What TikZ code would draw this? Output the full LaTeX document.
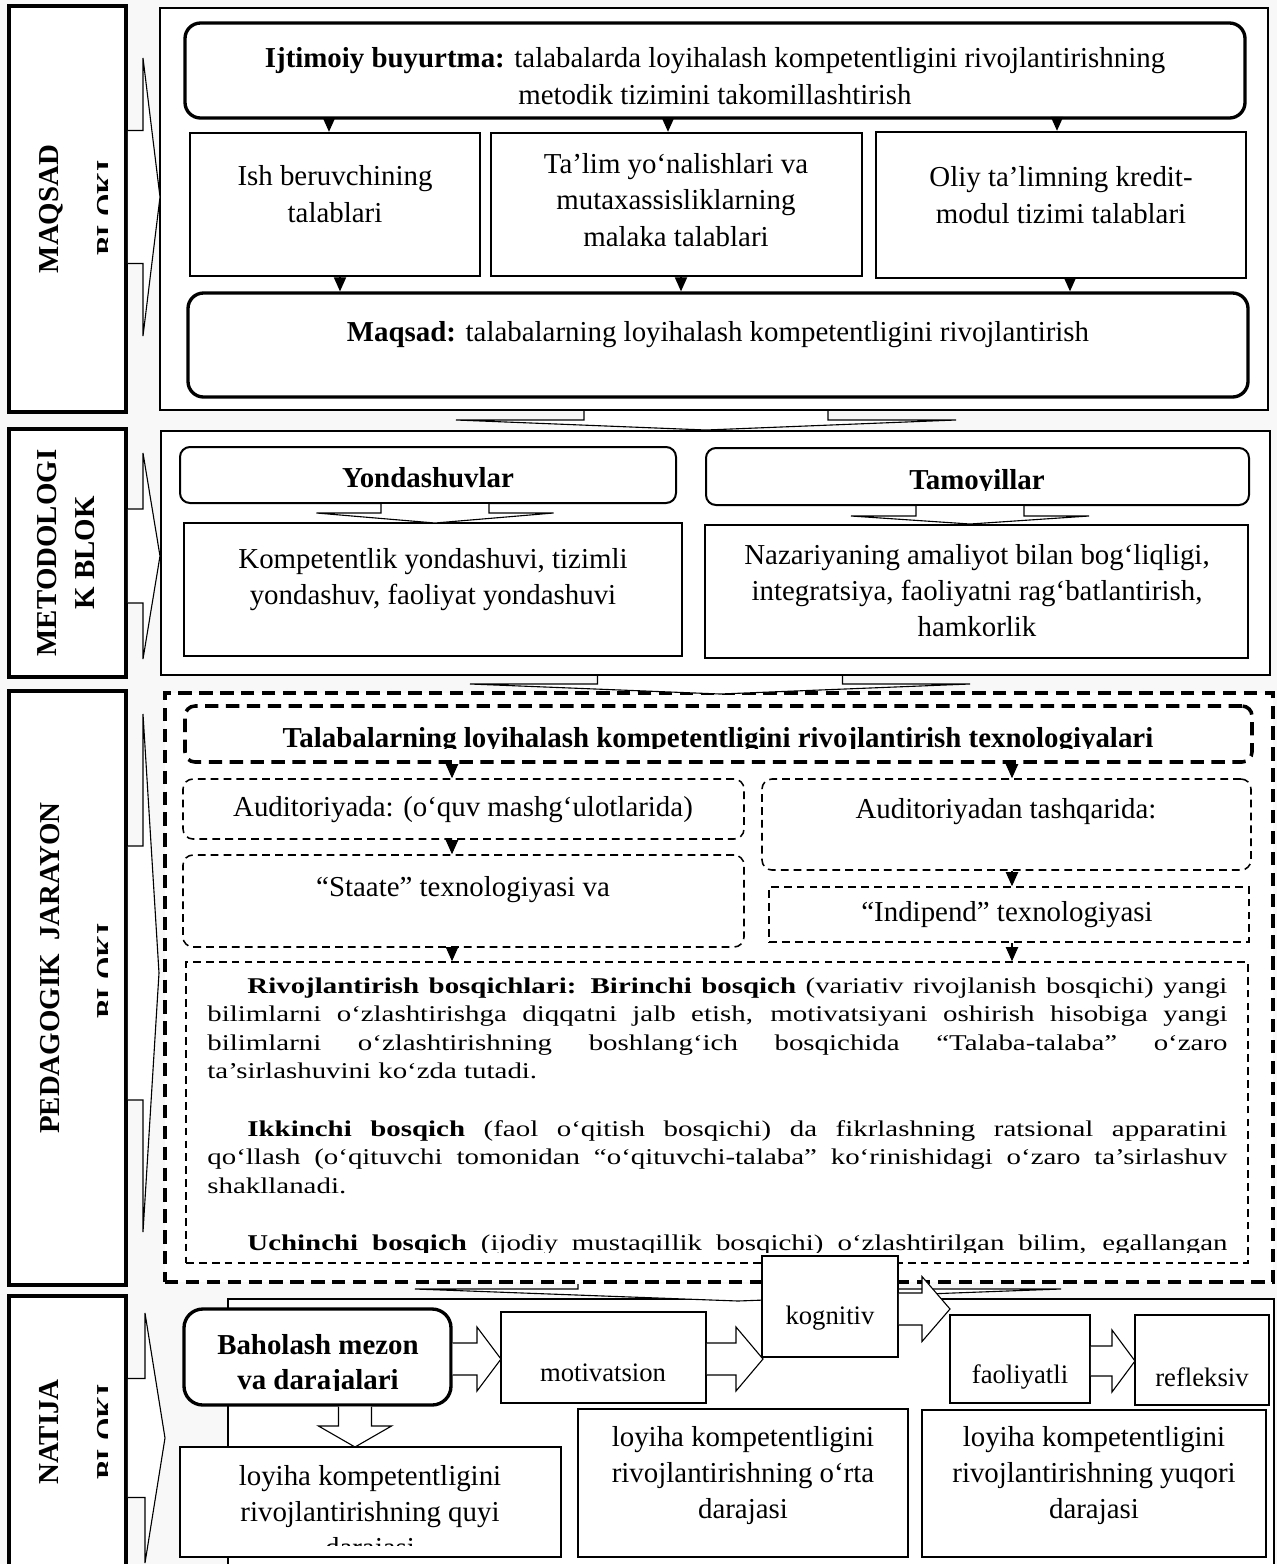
\documentclass[tikz,border=0pt]{standalone}
\usepackage{fontspec}
\setmainfont{Liberation Serif}
\usepackage{graphicx}
\usetikzlibrary{fit,calc,arrows.meta}

\definecolor{bggray}{RGB}{248,248,248}

% hollow block arrows: start, tip, stem half width, head half width, head length
\newcommand{\blockdown}[5]{%
  \draw[hollow] ($(#1 -| #2)+(-#3,0)$) -- ($(#2)+(-#3,-#5)$) -- ($(#2)+(-#4,-#5)$) -- (#2)
    -- ($(#2)+(#4,-#5)$) -- ($(#2)+(#3,-#5)$) -- ($(#1 -| #2)+(#3,0)$);}
\newcommand{\blockright}[5]{%
  \draw[hollow] ($(#1 |- #2)+(0,-#3)$) -- ($(#2)+(-#5,-#3)$) -- ($(#2)+(-#5,-#4)$) -- (#2)
    -- ($(#2)+(-#5,#4)$) -- ($(#2)+(-#5,#3)$) -- ($(#1 |- #2)+(0,#3)$);}

\begin{document}
\begin{tikzpicture}[x=0.45pt, y=-0.45pt,
labelbox/.style={draw, line width=1.6pt, fill=white, inner sep=0pt},
framebox/.style={draw, line width=0.9pt, fill=white, inner sep=0pt},
roundbox/.style={draw, line width=1.5pt, rounded corners=7pt, fill=white, inner sep=0pt},
squarebox/.style={draw, line width=1.1pt, fill=white, inner sep=0pt},
thinbox/.style={draw, line width=0.7pt, fill=white, inner sep=0pt},
thinround/.style={draw, line width=0.9pt, rounded corners=4.5pt, fill=white, inner sep=0pt},
dashframe/.style={draw, line width=1.8pt, dash pattern=on 6pt off 3.4pt, fill=white, inner sep=0pt},
dashround/.style={draw, line width=1.6pt, dash pattern=on 6pt off 3.4pt, rounded corners=4.5pt, fill=white, inner sep=0pt},
dashthin/.style={draw, line width=0.7pt, dash pattern=on 3.5pt off 2.3pt, fill=white, inner sep=0pt},
dashthinround/.style={dashthin, rounded corners=4.5pt},
labeltext/.style={rotate=90, anchor=base, inner sep=0pt, font=\fontsize{13}{15}\selectfont\bfseries},
boxtext/.style={align=center, inner sep=0pt, font=\fontsize{13}{16.6}\selectfont},
smalltext/.style={boxtext, font=\fontsize{12}{14}\selectfont},
arr/.style={-{Triangle[width=5.5pt,length=6.3pt]}, line width=0.5pt},
hollow/.style={draw, line width=0.5pt, fill=white, line join=miter},
]
\useasboundingbox (0,0) rectangle (1277,1564);
\fill[bggray] (0,0) rectangle (1277,1564);

%Coordinates
\coordinate (t1) at (160,197);
\coordinate (t2) at (160,556);
\coordinate (t3) at (159,973);
\coordinate (t4) at (165,1438);
\coordinate (d12) at (706,430);
\coordinate (d23) at (720,694);
\coordinate (d34) at (738,1301);
\coordinate (y1) at (435,523);
\coordinate (y2) at (970,524);
\coordinate (h1) at (501,1359);
\coordinate (h2) at (763,1359);
\coordinate (h3) at (950,1309);
\coordinate (h4) at (1135,1361);
\coordinate (hq) at (355,1447);
\coordinate (colL) at (452,0);
\coordinate (colR) at (1012,0);

%Label boxes
\node[labelbox, fit={(9,6) (126,412)}] (L1) {};
\node[labelbox, fit={(9,429) (126,677)}] (L2) {};
\node[labelbox, fit={(9,691) (126,1285)}] (L3) {};
\node[labelbox, fit={(9,1296) (126,1600)}] (L4) {};
\node[labeltext] (L1a) at (58,209) {MAQSAD};
\node[labeltext] (L2a) at (57,553) {METODOLOGI};
\node[labeltext] (L2b) at (94,553) {K BLOK};
\node[labeltext] (L3a) at (59,968) {PEDAGOGIK\hspace{6pt}JARAYON};
\node[labeltext] (L4a) at (58,1432) {NATIJA};
\begin{scope}
\clip (9,0) rectangle (107,1564);
\node[labeltext] (L1b) at (116,208) {BLOKI};
\node[labeltext] (L3b) at (116,971) {BLOKI};
\node[labeltext] (L4b) at (116,1432) {BLOKI};
\end{scope}

%Maqsad blok
\node[framebox, fit={(160,8) (1268,410)}] (C1) {};
\node[roundbox, fit={(185,23) (1245,118)}] (T1) {};
\node[boxtext, font=\fontsize{13}{17}\selectfont] (T1t) at (715,76) {\textbf{Ijtimoiy buyurtma:} talabalarda loyihalash kompetentligini rivojlantirishning\\metodik tizimini takomillashtirish};
\node[squarebox, fit={(190,133) (480,276)}] (B1) {};
\node[boxtext] (B1t) at (335,194) {Ish beruvchining\\talablari};
\node[squarebox, fit={(491,133) (862,276)}] (B2) {};
\node[boxtext] (B2t) at (676,200) {Ta’lim yo‘nalishlari va\\mutaxassisliklarning\\malaka talablari};
\node[squarebox, fit={(876,132) (1246,278)}] (B3) {};
\node[boxtext] (B3t) at (1061,195) {Oliy ta’limning kredit-\\modul tizimi talablari};
\node[roundbox, fit={(188,293) (1248,397)}] (M) {};
\node[boxtext] (Mt) at (718,335) {\textbf{Maqsad:} talabalarning loyihalash kompetentligini rivojlantirish};
\foreach \n/\xa/\xb in {1/329/340, 2/668/681, 3/1057/1070} {
  \coordinate (ua\n) at (\xa,0);
  \coordinate (ub\n) at (\xb,0);
  \draw[arr] (T1.south -| ua\n) -- (B\n.north -| ua\n);
  \draw[arr] (B\n.south -| ub\n) -- (M.north -| ub\n);
}
\blockright{L1.east}{t1}{66.5}{139}{17}

%Metodologik blok
\node[framebox, fit={(161,431) (1270,675)}] (C2) {};
\blockdown{C1.south}{d12}{122}{250}{10}
\node[thinround, fit={(180,447) (676,503)}] (Y) {};
\node[boxtext, font=\fontsize{13}{16}\selectfont\bfseries] (Yt) at (428,478) {Yondashuvlar};
\node[framebox, fit={(184,523) (682,656)}] (K) {};
\node[boxtext, font=\fontsize{13}{16.2}\selectfont] (Kt) at (433,580) {Kompetentlik yondashuvi, tizimli\\yondashuv, faoliyat yondashuvi};
\node[thinround, fit={(706,448) (1249,505)}] (Tm) {};
\begin{scope}
\clip (706,448) rectangle (1249,490);
\node[boxtext, anchor=base, font=\fontsize{13}{16}\selectfont\bfseries] (Tmt) at (977,489) {Tamoyillar};
\end{scope}
\node[framebox, fit={(705,525) (1248,658)}] (N) {};
\node[boxtext, font=\fontsize{13}{16.2}\selectfont] (Nt) at (977,591) {Nazariyaning amaliyot bilan bog‘liqligi,\\integratsiya, faoliyatni rag‘batlantirish,\\hamkorlik};
\blockdown{Y.south}{y1}{54}{118.5}{10}
\blockdown{Tm.south}{y2}{54}{119}{8}
\blockright{L2.east}{t2}{47}{103}{17}

%Pedagogik jarayon blok
\node[dashframe, fit={(165,693) (1273,1282)}] (C3) {};
\blockdown{C2.south}{d23}{122.5}{250}{10}
\node[dashround, fit={(185,706) (1252,762)}] (Tt) {};
\begin{scope}
\clip (185,706) rectangle (1252,748);
\node[boxtext, anchor=base, font=\fontsize{13}{16}\selectfont\bfseries] (Ttt) at (718,747) {Talabalarning loyihalash kompetentligini rivojlantirish texnologiyalari};
\end{scope}
\node[dashthinround, fit={(183,779) (744,839)}] (A1) {};
\node[boxtext] (A1t) at (463,810) {Auditoriyada: (o‘quv mashg‘ulotlarida)};
\node[dashthinround, fit={(762,779) (1251,870)}] (A2) {};
\node[boxtext] (A2t) at (1006,812) {Auditoriyadan tashqarida:};
\node[dashthinround, fit={(183,855) (744,947)}] (S) {};
\node[boxtext] (St) at (463,890) {“Staate” texnologiyasi va};
\node[dashthin, fit={(769,887) (1249,942)}] (I) {};
\node[boxtext] (It) at (1007,915) {“Indipend” texnologiyasi};
\node[dashthin, fit={(186,962) (1248,1263)}] (P) {};
\begin{scope}
\clip (186,962) rectangle (1248,1252);
\node[anchor=base west, inner sep=0pt, font=\fontsize{13}{16.5}\selectfont] (Pt) at (207,993) {\scalebox{1}[0.78]{\begin{minipage}[t]{459pt}\setlength{\parindent}{18pt}\setlength{\parskip}{16.5pt}%
\textbf{Rivojlantirish bosqichlari: Birinchi bosqich} (variativ rivojlanish bosqichi) yangi\linebreak
bilimlarni o‘zlashtirishga diqqatni jalb etish, motivatsiyani oshirish hisobiga yangi\linebreak
bilimlarni o‘zlashtirishning boshlang‘ich bosqichida “Talaba-talaba” o‘zaro\linebreak
ta’sirlashuvini ko‘zda tutadi.\par
\textbf{Ikkinchi bosqich} (faol o‘qitish bosqichi) da fikrlashning ratsional apparatini\linebreak
qo‘llash (o‘qituvchi tomonidan “o‘qituvchi-talaba” ko‘rinishidagi o‘zaro ta’sirlashuv\linebreak
shakllanadi.\par
{\parfillskip=0pt \textbf{Uchinchi bosqich} (ijodiy mustaqillik bosqichi) o‘zlashtirilgan bilim, egallangan\par}
\end{minipage}}};
\end{scope}
\draw[arr] (Tt.south -| colL) -- (A1.north -| colL);
\draw[arr] (Tt.south -| colR) -- (A2.north -| colR);
\draw[arr] (A1.south -| colL) -- (S.north -| colL);
\draw[arr] (A2.south -| colR) -- (I.north -| colR);
\draw[arr] (S.south -| colL) -- (P.north -| colL);
\draw[arr] (I.south -| colR) -- (P.north -| colR);
\blockright{L3.east}{t3}{127}{259}{16}

%Natija blok
\node[framebox, fit={(228,1299) (1274,1620)}] (C4) {};
\blockdown{C3.south}{d34}{160}{323}{12}
\node[roundbox, rounded corners=8.5pt, fit={(184,1309) (451,1405)}] (Bh) {};
\begin{scope}
\clip (184,1309) rectangle (451,1390);
\node[anchor=base, inner sep=0pt, font=\fontsize{13}{15.8}\selectfont\bfseries] (Bht) at (318,1354) {\begin{tabular}[t]{@{}c@{}}Baholash mezon\\va darajalari\end{tabular}};
\end{scope}
\node[thinbox, fit={(501,1312) (706,1403)}] (Mo) {};
\node[smalltext] (Mot) at (603,1373) {motivatsion};
\node[thinbox, fit={(762,1256) (898,1357)}] (Ko) {};
\node[smalltext] (Kot) at (830,1318) {kognitiv};
\node[thinbox, fit={(950,1315) (1090,1403)}] (Fa) {};
\node[smalltext] (Fat) at (1020,1377) {faoliyatli};
\node[thinbox, fit={(1135,1315) (1269,1405)}] (Re) {};
\node[smalltext] (Ret) at (1202,1377) {refleksiv};
\node[squarebox, fit={(180,1447) (561,1557)}] (Q) {};
\begin{scope}
\clip (180,1447) rectangle (561,1545);
\node[anchor=base, inner sep=0pt, font=\fontsize{13}{16.2}\selectfont] (Qt) at (370,1485) {\begin{tabular}[t]{@{}c@{}}loyiha kompetentligini\\rivojlantirishning quyi\\darajasi\end{tabular}};
\end{scope}
\node[squarebox, fit={(578,1409) (908,1557)}] (O) {};
\node[boxtext, font=\fontsize{13}{16.2}\selectfont] (Ot) at (743,1476) {loyiha kompetentligini\\rivojlantirishning o‘rta\\darajasi};
\node[squarebox, fit={(922,1410) (1266,1557)}] (Yq) {};
\node[boxtext, font=\fontsize{13}{16.2}\selectfont] (Yqt) at (1094,1476) {loyiha kompetentligini\\rivojlantirishning yuqori\\darajasi};
\blockright{Bh.east}{h1}{16}{32}{24}
\blockright{Mo.east}{h2}{16}{32}{27}
\blockright{Ko.east}{h3}{16}{32.5}{28}
\blockright{Fa.east}{h4}{15}{31}{23}
\blockdown{Bh.south}{hq}{16.5}{36.5}{21}
\blockright{L4.east}{t4}{59.5}{125}{20}

\end{tikzpicture}
\end{document}
